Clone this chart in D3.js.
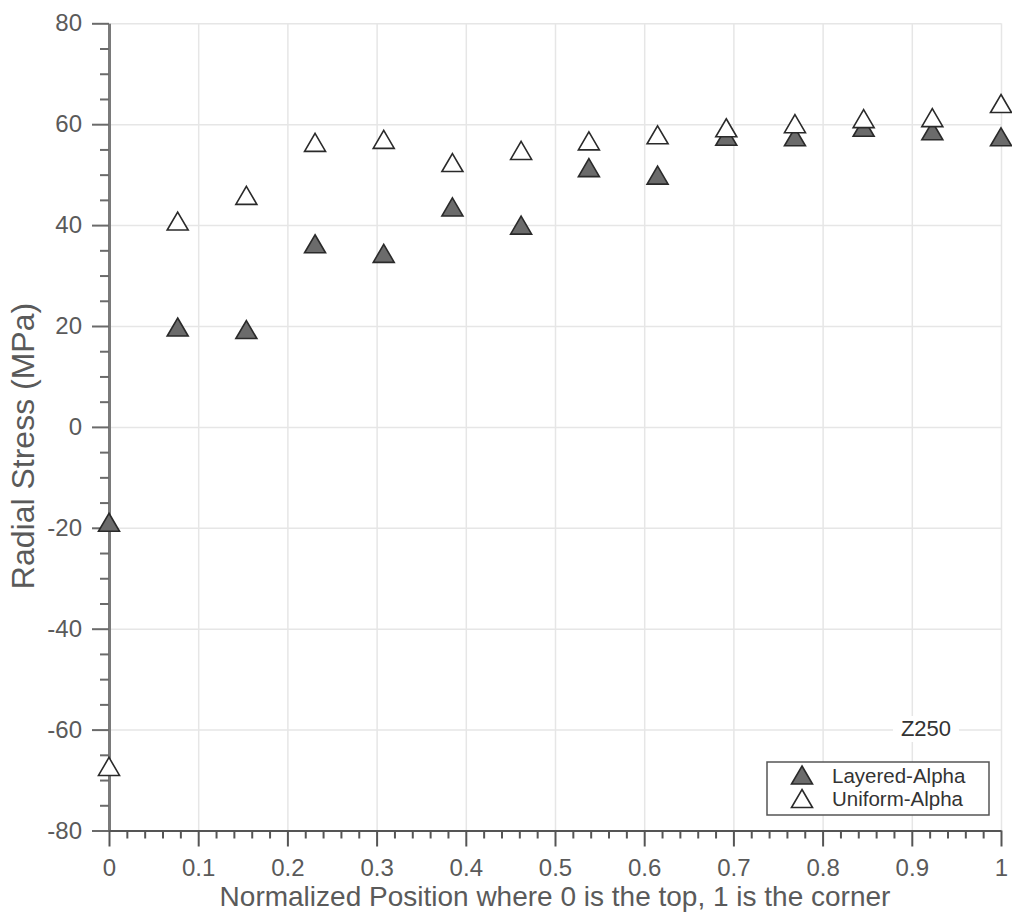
<!DOCTYPE html>
<html>
<head>
<meta charset="utf-8">
<script src="https://cdn.jsdelivr.net/npm/d3@7"></script>
<style>
  body { margin: 0; background: #fff; }
  svg { display: block; font-family: "Liberation Sans", Arial, Helvetica, sans-serif; }
  .grid line { stroke: #e6e6e6; stroke-width: 1.5; }
  .grid path { display: none; }
  .axis text { fill: #5a5a5a; }
</style>
</head>
<body>
<svg width="1012" height="918"></svg>
<script>
// positions along the edge (0 = top, 1 = corner)
var positions = [0, 0.077, 0.154, 0.231, 0.308, 0.385, 0.462, 0.538, 0.615, 0.692, 0.769, 0.846, 0.923, 1];
// radial stress, MPa
var layeredAlpha = [-18.9, 19.8, 19.3, 36.3, 34.4, 43.6, 40.0, 51.4, 49.9, 57.6, 57.5, 59.4, 58.7, 57.5];
var uniformAlpha = [-67.3, 40.8, 45.9, 56.4, 57.0, 52.4, 54.8, 56.7, 57.9, 59.3, 60.1, 61.1, 61.3, 64.1];
var xTicks = [0, 0.1, 0.2, 0.3, 0.4, 0.5, 0.6, 0.7, 0.8, 0.9, 1];
var yTicks = [-80, -60, -40, -20, 0, 20, 40, 60, 80];
var seriesNames = ["Layered-Alpha", "Uniform-Alpha"];
var caseLabel = "Z250";

var svg = d3.select("svg");
var x = d3.scaleLinear().domain([0, 1]).range([109, 1001]);
var y = d3.scaleLinear().domain([-80, 80]).range([830.5, 23.3]);

// grid
svg.append("g").attr("class", "grid")
    .attr("transform", "translate(0,830.5)")
    .call(d3.axisBottom(x).tickValues(xTicks).tickSize(-(830.5 - 23.3)).tickFormat(""));
svg.append("g").attr("class", "grid")
    .attr("transform", "translate(109,0)")
    .call(d3.axisLeft(y).tickValues(yTicks).tickSize(-(1001 - 109)).tickFormat(""));

// minor ticks
var xMinor = d3.range(0, 1.0001, 0.02).filter(function(v) { return Math.abs(v * 10 - Math.round(v * 10)) > 1e-6; });
var yMinor = d3.range(-80, 80.001, 5).filter(function(v) { return v % 20 !== 0; });

var yAxis = svg.append("g").attr("class", "axis")
    .attr("transform", "translate(109,0)")
    .call(d3.axisLeft(y).tickValues(yTicks).tickSizeInner(17).tickSizeOuter(0).tickPadding(10)
        .tickFormat(function(d) { return String(d); }));
yAxis.append("g").call(d3.axisLeft(y).tickValues(yMinor).tickSize(9).tickFormat(""))
    .select(".domain").remove();
yAxis.selectAll("line").attr("stroke", "#6a6a6a").attr("stroke-width", 2);
yAxis.selectAll(".domain").attr("stroke", "#7a7a7a").attr("stroke-width", 3);
yAxis.selectAll("text").style("font-size", "24px");

var xAxis = svg.append("g").attr("class", "axis")
    .attr("transform", "translate(0,830.5)")
    .call(d3.axisBottom(x).tickValues(xTicks).tickSizeInner(16).tickSizeOuter(0).tickPadding(12)
        .tickFormat(function(d) { return String(+d.toFixed(1)); }));
xAxis.append("g").call(d3.axisBottom(x).tickValues(xMinor).tickSize(8).tickFormat(""))
    .select(".domain").remove();
xAxis.selectAll("line").attr("stroke", "#555").attr("stroke-width", 2);
xAxis.selectAll(".domain").attr("stroke", "#555").attr("stroke-width", 2);
xAxis.selectAll("text").style("font-size", "24px");

// axis titles
svg.append("text")
    .attr("x", 555).attr("y", 906)
    .attr("text-anchor", "middle")
    .style("font-size", "28px").style("fill", "#5a5a5a")
    .text("Normalized Position where 0 is the top, 1 is the corner");
svg.append("text")
    .attr("transform", "translate(34,446) rotate(-90)")
    .attr("text-anchor", "middle")
    .style("font-size", "32px").style("fill", "#5a5a5a")
    .text("Radial Stress (MPa)");

// triangle marker, centred on its box
function tri(cx, cy) {
    var w = 21, h = 18;
    return "M" + cx + "," + (cy - h / 2) + "L" + (cx + w / 2) + "," + (cy + h / 2) +
           "L" + (cx - w / 2) + "," + (cy + h / 2) + "Z";
}
var styles = [
    { fill: "#6b6b6b", values: layeredAlpha },
    { fill: "#ffffff", values: uniformAlpha }
];

styles.forEach(function(s) {
    svg.append("g").selectAll("path")
        .data(positions)
        .join("path")
        .attr("d", function(d, i) { return tri(x(d), y(s.values[i])); })
        .attr("fill", s.fill)
        .attr("stroke", "#2a2a2a")
        .attr("stroke-width", 1.6);
});

// case label with white backing
var lab = svg.append("g");
lab.append("rect").attr("x", 893).attr("y", 716).attr("width", 66).attr("height", 26).attr("fill", "#fff");
lab.append("text").attr("x", 926).attr("y", 736).attr("text-anchor", "middle")
    .style("font-size", "22px").style("fill", "#333").text(caseLabel);

// legend
var leg = svg.append("g");
leg.append("rect").attr("x", 767).attr("y", 762).attr("width", 222).attr("height", 53)
    .attr("fill", "#fff").attr("stroke", "#555").attr("stroke-width", 1.5);
seriesNames.forEach(function(name, i) {
    var cy = 775 + i * 23.5;
    leg.append("path").attr("d", tri(802, cy))
        .attr("fill", styles[i].fill).attr("stroke", "#2a2a2a").attr("stroke-width", 1.6);
    leg.append("text").attr("x", 832).attr("y", cy + 7.5)
        .style("font-size", "20.5px").style("fill", "#333").text(name);
});
</script>
</body>
</html>
